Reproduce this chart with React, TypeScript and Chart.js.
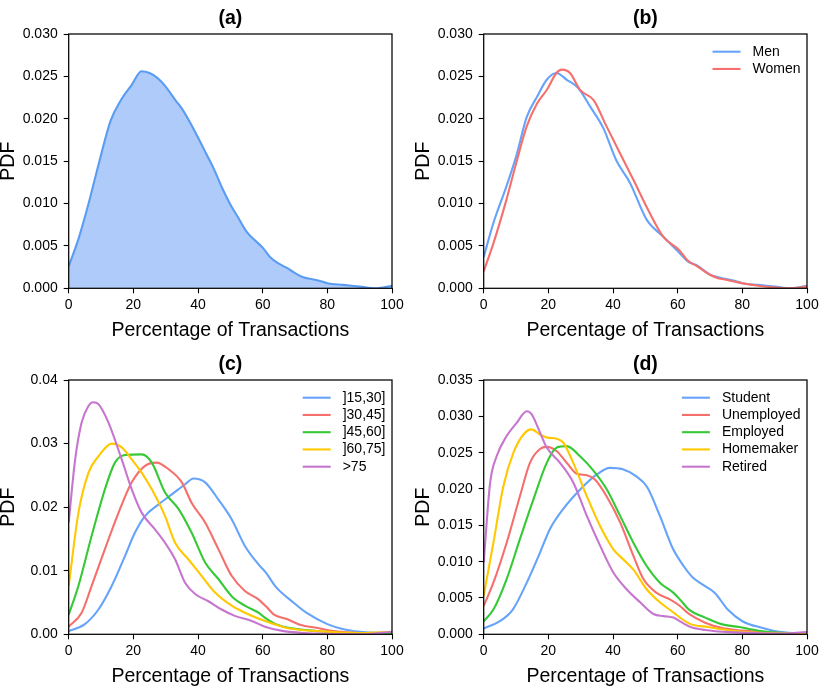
import React, { useEffect, useRef } from "react";
import { Chart, registerables } from "chart.js";

Chart.register(...registerables);

const FONT = '"Liberation Sans", Arial, Helvetica, sans-serif';

// ---------- tick values / labels ----------
const X_TICKS = [0, 20, 40, 60, 80, 100];
const Y_TICKS_AB = [0, 0.005, 0.01, 0.015, 0.02, 0.025, 0.03];
const Y_TICKS_C = [0, 0.01, 0.02, 0.03, 0.04];
const Y_TICKS_D = [0, 0.005, 0.01, 0.015, 0.02, 0.025, 0.03, 0.035];
const X_LABEL = "Percentage of Transactions";
const Y_LABEL = "PDF";
const PANEL_TITLES = ["(a)", "(b)", "(c)", "(d)"];

// ---------- (a) all users ----------
const ALL_PDF: [number, number][] = [
  [0, 0.0026], [3, 0.0058], [6, 0.0098], [9.5, 0.015], [13, 0.0198], [16, 0.0221],
  [19.5, 0.024], [22.5, 0.0256], [25, 0.0254], [27.5, 0.0248], [30, 0.0238], [33, 0.0222],
  [35, 0.0212], [37.5, 0.0196], [40, 0.0178], [42.5, 0.0159], [45, 0.014], [47.5, 0.0118],
  [50, 0.0099], [52.5, 0.0083], [55, 0.0067], [57.5, 0.0057], [60, 0.0048], [62.5, 0.0036],
  [65, 0.0029], [67.5, 0.0024], [70, 0.0018], [72.5, 0.0013], [75, 0.0011], [77.5, 0.0009],
  [80, 0.0006], [85, 0.0004], [90, 0.0002], [95, 0.0], [100, 0.0003],
];

// ---------- (b) gender ----------
const GENDER_LABELS = ["Men", "Women"];
const MEN_PDF: [number, number][] = [
  [0, 0.0037], [3, 0.0077], [7, 0.012], [10, 0.0155], [13.3, 0.0202], [16.5, 0.0226],
  [19.5, 0.0246], [22.5, 0.0254], [25.7, 0.0246], [29.3, 0.0236], [33, 0.0214], [37, 0.0189],
  [41, 0.0151], [45.3, 0.0124], [50.4, 0.0081], [55.5, 0.0061], [60.5, 0.0042], [63, 0.0032],
  [66, 0.0027], [70, 0.0016], [72.5, 0.0013], [75, 0.0011], [77.5, 0.0009], [80, 0.0006],
  [85, 0.0004], [90, 0.0002], [95, 0.0], [100, 0.0003],
];
const WOMEN_PDF: [number, number][] = [
  [0, 0.002], [3, 0.0053], [7, 0.0104], [10, 0.0147], [13.3, 0.0191], [16.5, 0.0218],
  [19.5, 0.0234], [22.5, 0.0254], [24.2, 0.0258], [26.7, 0.0254], [29.8, 0.0234], [34, 0.0222],
  [38, 0.0191], [42.2, 0.0159], [46.3, 0.0128], [50.4, 0.0096], [55.5, 0.0061], [60.5, 0.0045],
  [63, 0.0033], [66, 0.0026], [70, 0.0016], [72.5, 0.0012], [75, 0.001], [77.5, 0.0008],
  [80, 0.0006], [85, 0.0003], [90, 0.0001], [95, 0.0], [100, 0.0002],
];

// ---------- (c) age groups ----------
const AGE_LABELS = ["]15,30]", "]30,45]", "]45,60]", "]60,75]", ">75"];
const AGE_15_30: [number, number][] = [
  [0, 0.0005], [5, 0.0016], [9.2, 0.0039], [13.3, 0.0076], [17.4, 0.0123], [20.5, 0.016],
  [23.6, 0.0186], [27.7, 0.0204], [31.9, 0.022], [36, 0.0236], [38.6, 0.0245], [42.2, 0.0239],
  [46.3, 0.0212], [50.4, 0.0181], [54.5, 0.0139], [58.7, 0.011], [61, 0.0097], [64, 0.0075],
  [69.5, 0.005], [73.5, 0.0034], [80, 0.0016], [85, 0.0008], [92, 0.0003], [100, 0.0002],
];
const AGE_30_45: [number, number][] = [
  [0, 0.0012], [4, 0.0034], [7.1, 0.0076], [11.2, 0.0134], [15.4, 0.0191], [19.5, 0.0239],
  [23.6, 0.0265], [27.2, 0.027], [30.8, 0.026], [35, 0.0239], [38, 0.0207], [42.2, 0.0176],
  [46.3, 0.0134], [50.4, 0.0092], [54.5, 0.0068], [58.7, 0.0055], [61, 0.0044], [63.5, 0.0031],
  [67.5, 0.0024], [71.5, 0.0015], [77, 0.001], [82, 0.0005], [90, 0.0002], [100, 0.0001],
];
const AGE_45_60: [number, number][] = [
  [0, 0.0031], [3, 0.0076], [7.1, 0.0155], [11.2, 0.0228], [14.3, 0.027], [17.4, 0.0282],
  [22.6, 0.0283], [25.7, 0.027], [29.8, 0.0223], [34, 0.0197], [38, 0.016], [42.2, 0.0113],
  [46.3, 0.0087], [50.4, 0.006], [54.5, 0.0045], [58.7, 0.0034], [61, 0.0025], [64, 0.0016],
  [69.5, 0.0009], [77, 0.0005], [85, 0.0002], [100, 0.0001],
];
const AGE_60_75: [number, number][] = [
  [0, 0.0076], [3, 0.0191], [6.1, 0.0254], [9.2, 0.028], [13.3, 0.03], [16.4, 0.0294],
  [19.5, 0.0275], [22.6, 0.0254], [25.7, 0.0228], [29.8, 0.0186], [32.9, 0.0144], [37, 0.0118],
  [41.1, 0.0092], [45.2, 0.0066], [50.4, 0.0045], [54.5, 0.0034], [60.7, 0.0021], [67.5, 0.001],
  [77, 0.0005], [90, 0.0002], [100, 0.0004],
];
const AGE_75_PLUS: [number, number][] = [
  [0, 0.0176], [2, 0.0275], [4, 0.0333], [6.1, 0.0359], [7.6, 0.0365], [9.2, 0.0362],
  [12.3, 0.0333], [16.4, 0.0275], [19.5, 0.0228], [22.6, 0.0191], [26.7, 0.0165], [29.8, 0.0144],
  [32.9, 0.0118], [36, 0.0081], [39.2, 0.0063], [43.2, 0.0052], [47.3, 0.0039], [51.4, 0.0029],
  [56.6, 0.0021], [60.7, 0.0012], [66.5, 0.0005], [77, 0.0001], [90, 0.0], [100, 0.0004],
];

// ---------- (d) occupation ----------
const JOB_LABELS = ["Student", "Unemployed", "Employed", "Homemaker", "Retired"];
const STUDENT_PDF: [number, number][] = [
  [0, 0.0008], [5, 0.0018], [9, 0.0034], [13, 0.0068], [17, 0.0108], [20.5, 0.0145],
  [24.5, 0.0172], [30, 0.02], [35, 0.022], [39, 0.0229], [43, 0.0227], [47, 0.0218],
  [50.5, 0.0203], [54.5, 0.0163], [58.5, 0.0118], [62, 0.0093], [64.5, 0.0079], [67.5, 0.0069],
  [71.5, 0.0057], [75.5, 0.0034], [80, 0.0018], [86, 0.0009], [92, 0.0003], [100, 0.0001],
];
const UNEMPLOYED_PDF: [number, number][] = [
  [0, 0.0039], [3, 0.0071], [7.1, 0.0126], [11.2, 0.019], [14.3, 0.0236], [17.4, 0.0255],
  [19.5, 0.0258], [22.6, 0.0252], [25.7, 0.0236], [28.8, 0.0221], [31.9, 0.0219], [34.4, 0.0213],
  [38, 0.019], [42.2, 0.0154], [46.3, 0.0108], [49.4, 0.0076], [53.5, 0.0057], [57.6, 0.0048],
  [60.7, 0.0039], [63.5, 0.0028], [68.5, 0.0016], [73.5, 0.0009], [80, 0.0005], [90, 0.0002], [100, 0.0001],
];
const EMPLOYED_PDF: [number, number][] = [
  [0, 0.0018], [3, 0.0034], [7.1, 0.0076], [11.2, 0.0131], [15.4, 0.0186], [19.5, 0.0236],
  [22.6, 0.0257], [25.7, 0.0259], [29.8, 0.0245], [34, 0.0225], [38, 0.02], [42.2, 0.0163],
  [46.3, 0.0126], [50.4, 0.0094], [54.5, 0.0071], [58.7, 0.0057], [60.7, 0.0048], [63.5, 0.0034],
  [68.5, 0.0023], [73.5, 0.0014], [79, 0.001], [85, 0.0005], [92, 0.0002], [100, 0.0001],
];
const HOMEMAKER_PDF: [number, number][] = [
  [0, 0.0053], [3, 0.0126], [6.1, 0.0204], [9.2, 0.025], [12.3, 0.0275], [14.8, 0.0282],
  [17.4, 0.0275], [19.5, 0.0271], [22.6, 0.0269], [24.6, 0.0264], [27.7, 0.0236], [31.9, 0.019],
  [36, 0.0149], [40.1, 0.0117], [43.2, 0.0103], [46.3, 0.0089], [50.4, 0.0062], [54.5, 0.0044],
  [58.7, 0.003], [60.7, 0.0023], [64, 0.0014], [69.5, 0.001], [75, 0.0006], [85, 0.0002], [100, 0.0001],
];
const RETIRED_PDF: [number, number][] = [
  [0, 0.0099], [2, 0.0209], [4, 0.0245], [7.1, 0.0273], [10.2, 0.0291], [13.3, 0.0307],
  [14.8, 0.0303], [17.4, 0.0278], [19.5, 0.0257], [23.6, 0.0236], [27.7, 0.0209], [31.9, 0.0163],
  [36, 0.0122], [40.1, 0.0085], [44.2, 0.0062], [48.4, 0.0044], [52.5, 0.0028], [55.6, 0.0025],
  [58.7, 0.0023], [61, 0.0017], [64, 0.001], [68.5, 0.0006], [76, 0.0003], [90, 0.0001], [100, 0.0003],
];

// ---------- colours ----------
const BLUE = "#66a3fa";
const RED = "#f5706c";
const GREEN = "#36c936";
const YELLOW = "#ffc800";
const PURPLE = "#c776d0";
const FILL_BLUE = "#aecbfa";
const SERIES_COLORS = [BLUE, RED, GREEN, YELLOW, PURPLE];

// ---------- plugins ----------
const framePlugin = {
  id: "frame",
  afterDraw(chart: any) {
    const { ctx, chartArea } = chart;
    ctx.save();
    ctx.strokeStyle = "#000";
    ctx.lineWidth = 1.25;
    ctx.strokeRect(chartArea.left, chartArea.top, chartArea.right - chartArea.left, chartArea.bottom - chartArea.top);
    ctx.restore();
  },
};

const insideLegend = {
  id: "insideLegend",
  afterDraw(chart: any, _args: any, opts: any) {
    if (!opts || !opts.display) return;
    const { ctx, chartArea } = chart;
    const ds = chart.data.datasets;
    ctx.save();
    ctx.font = `14px ${FONT}`;
    const maxW = Math.max(...ds.map((d: any) => ctx.measureText(d.label).width));
    const textX = chartArea.right - 6.5 - maxW;
    ds.forEach((d: any, i: number) => {
      const y = chartArea.top + 17.7 + i * 17.25;
      ctx.strokeStyle = d.borderColor;
      ctx.lineWidth = 2.1;
      ctx.lineCap = "butt";
      ctx.beginPath();
      ctx.moveTo(textX - 40, y);
      ctx.lineTo(textX - 12, y);
      ctx.stroke();
      ctx.fillStyle = "#000";
      ctx.textBaseline = "middle";
      ctx.textAlign = "left";
      ctx.fillText(d.label, textX, y);
    });
    ctx.restore();
  },
};

function lineDataset(label: string, data: [number, number][], color: string, i: number) {
  return {
    label,
    data,
    borderColor: color,
    backgroundColor: color,
    borderWidth: 2.1,
    pointRadius: 0,
    cubicInterpolationMode: "monotone",
    fill: false,
    order: -i,
  };
}

function makeConfig(datasets: any[], yTicks: number[], decimals: number, title: string, legend: boolean) {
  const yMax = yTicks[yTicks.length - 1];
  const tickGrid = {
    display: true,
    drawOnChartArea: false,
    drawTicks: true,
    tickLength: 5,
    tickWidth: 1.1,
    tickColor: "#000",
  };
  return {
    type: "line",
    data: { datasets },
    plugins: [framePlugin, insideLegend],
    options: {
      responsive: false,
      animation: false,
      events: [],
      layout: { padding: { left: 0, right: 23, top: 0, bottom: 0 } },
      plugins: {
        legend: { display: false },
        tooltip: { enabled: false },
        title: {
          display: true,
          text: title,
          fullSize: false,
          color: "#000",
          font: { family: FONT, size: 19.5, weight: "bold", lineHeight: 1.2 },
          padding: { top: 7, bottom: 3.6 },
        },
        insideLegend: { display: legend },
      },
      scales: {
        x: {
          type: "linear",
          min: 0,
          max: 100,
          afterBuildTicks: (s: any) => {
            s.ticks = X_TICKS.map((v) => ({ value: v }));
          },
          afterFit: (s: any) => {
            s.height = 57.7;
          },
          ticks: {
            color: "#000",
            font: { family: FONT, size: 14 },
            padding: 3,
            maxRotation: 0,
            autoSkip: false,
            callback: (v: any) => String(v),
          },
          grid: tickGrid,
          border: { display: false },
          title: {
            display: true,
            text: X_LABEL,
            color: "#000",
            font: { family: FONT, size: 19.5, lineHeight: 1.2 },
            padding: { top: 0, bottom: 3.8 },
          },
        },
        y: {
          type: "linear",
          min: 0,
          max: yMax,
          afterBuildTicks: (s: any) => {
            s.ticks = yTicks.map((v) => ({ value: v }));
          },
          afterFit: (s: any) => {
            s.width = 68.7;
          },
          ticks: {
            color: "#000",
            font: { family: FONT, size: 14 },
            padding: 6,
            autoSkip: false,
            callback: (v: any) => Number(v).toFixed(decimals),
          },
          grid: tickGrid,
          border: { display: false },
          title: {
            display: true,
            text: Y_LABEL,
            color: "#000",
            font: { family: FONT, size: 19.5, lineHeight: 0.85 },
            padding: { top: 0, bottom: 0 },
          },
        },
      },
    },
  };
}

function buildConfigs() {
  const a = makeConfig(
    [
      {
        label: "All",
        data: ALL_PDF,
        borderColor: "#5b9cf3",
        backgroundColor: FILL_BLUE,
        borderWidth: 2.1,
        pointRadius: 0,
        cubicInterpolationMode: "monotone",
        fill: "origin",
      },
    ],
    Y_TICKS_AB, 3, PANEL_TITLES[0], false
  );
  const b = makeConfig(
    [MEN_PDF, WOMEN_PDF].map((d, i) => lineDataset(GENDER_LABELS[i], d, SERIES_COLORS[i], i)),
    Y_TICKS_AB, 3, PANEL_TITLES[1], true
  );
  const c = makeConfig(
    [AGE_15_30, AGE_30_45, AGE_45_60, AGE_60_75, AGE_75_PLUS].map((d, i) => lineDataset(AGE_LABELS[i], d, SERIES_COLORS[i], i)),
    Y_TICKS_C, 2, PANEL_TITLES[2], true
  );
  const d = makeConfig(
    [STUDENT_PDF, UNEMPLOYED_PDF, EMPLOYED_PDF, HOMEMAKER_PDF, RETIRED_PDF].map((s, i) => lineDataset(JOB_LABELS[i], s, SERIES_COLORS[i], i)),
    Y_TICKS_D, 3, PANEL_TITLES[3], true
  );
  return [a, b, c, d];
}

const PANEL_W = 415;
const PANEL_H = 346;

export default function App() {
  const refs = [useRef<HTMLCanvasElement>(null), useRef<HTMLCanvasElement>(null), useRef<HTMLCanvasElement>(null), useRef<HTMLCanvasElement>(null)];
  useEffect(() => {
    const configs = buildConfigs();
    const charts = configs.map((cfg, i) => new Chart(refs[i].current as HTMLCanvasElement, cfg as any));
    return () => charts.forEach((c) => c.destroy());
  }, []);
  return (
    <div style={{ position: "fixed", left: 0, top: 0, width: 830, height: 692, background: "#fff" }}>
      {refs.map((r, i) => (
        <canvas
          key={i}
          ref={r}
          width={PANEL_W}
          height={PANEL_H}
          style={{
            position: "absolute",
            left: (i % 2) * PANEL_W,
            top: Math.floor(i / 2) * PANEL_H,
            width: PANEL_W,
            height: PANEL_H,
          }}
        />
      ))}
    </div>
  );
}
